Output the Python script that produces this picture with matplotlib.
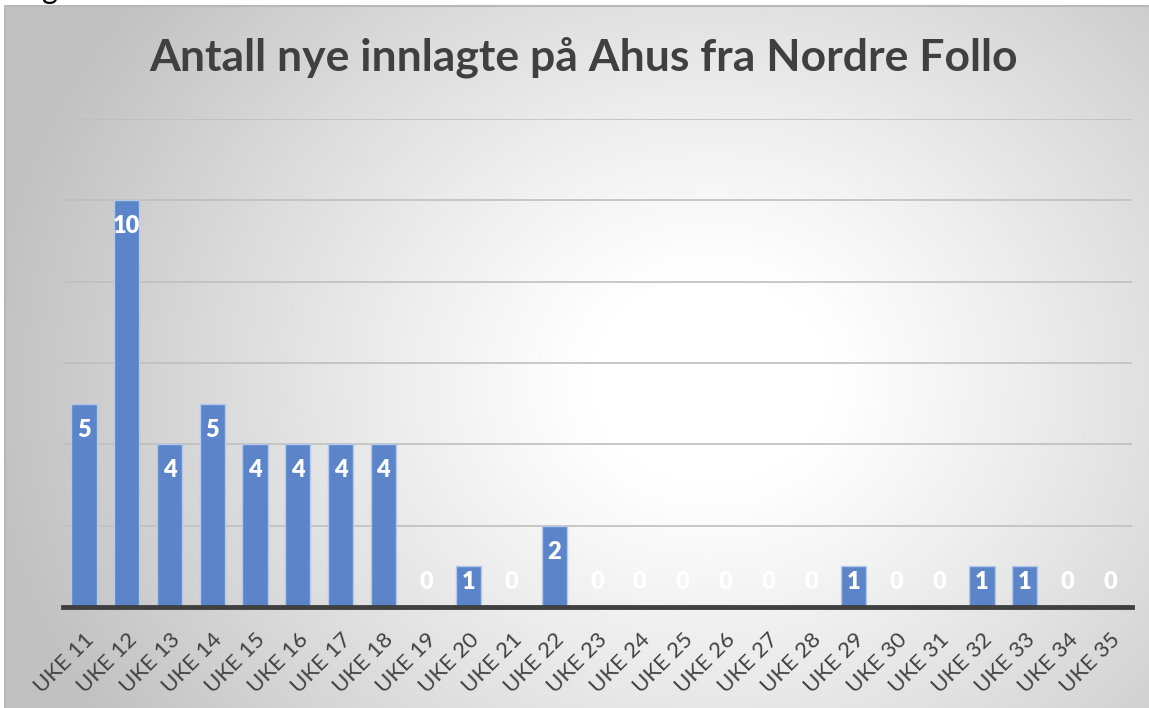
import numpy as np
import matplotlib.pyplot as plt

plt.rcParams['font.family'] = ['Lato', 'DejaVu Sans']

# data
weeks = ['UKE %d' % w for w in range(11, 36)]
values = [5, 10, 4, 5, 4, 4, 4, 4, 0, 1, 0, 2, 0, 0, 0, 0, 0, 0, 1, 0, 0, 1, 1, 0, 0]
title = 'Antall nye innlagte på Ahus fra Nordre Follo'

W, H = 1149, 708
fig = plt.figure(figsize=(W / 100, H / 100), dpi=100, facecolor='white')

# radial gradient background of the chart area
bx0, by0 = 5, 6
bg = fig.add_axes([bx0 / W, 0, 1 - bx0 / W, (H - by0) / H])
yy, xx = np.mgrid[by0:H, bx0:W]
r = np.hypot(xx - 710, (yy - 380) * 1.15)
t = np.clip((r - 120) / 600, 0, 1)
shade = 1 - 0.24 * t ** 1.1
img = np.dstack([shade, shade, shade])
bg.imshow(img, aspect='auto', extent=[0, 1, 0, 1], origin='upper')
bg.set_xlim(0, 1)
bg.set_ylim(0, 1)
bg.axis('off')
bg.plot([0, 0, 1], [0, 1, 1], color='#b8b8b8', lw=1.5, transform=bg.transAxes, clip_on=False)

# cut-off text from the page above
fig.text(42 / W, 1 + 1 / H, 'g', fontsize=22, color='black', ha='left', va='baseline')

ax = fig.add_axes([62.6 / W, 1 - 607 / H, (1131.6 - 62.6) / W, (607 - 119) / H])
ax.patch.set_alpha(0)
x = np.arange(len(weeks))
ax.bar(x, values, width=0.59, color='#5b84c9', edgecolor='#b4c8ea', linewidth=1, zorder=3)
ax.set_xlim(-0.5, len(weeks) - 0.5)
ax.set_ylim(0, 12)
ax.set_yticks(np.arange(2, 13, 2))
ax.yaxis.grid(True, color='#bfbfbf', lw=1.2, zorder=0)
ax.tick_params(axis='y', length=0, labelleft=False)
for s in ['top', 'right', 'left']:
    ax.spines[s].set_visible(False)
ax.spines['bottom'].set_color('#404040')
ax.spines['bottom'].set_linewidth(3.5)
ax.spines['bottom'].set_zorder(4)
ax.set_xticks(x)
ax.set_xticklabels(weeks, rotation=45, ha='right', rotation_mode='anchor',
                   fontsize=16, color='#404040')
ax.tick_params(axis='x', length=0, pad=16)

for i, v in enumerate(values):
    if v >= 1.3:
        ax.annotate(str(v), (i, v), xytext=(0, -26), textcoords='offset pixels',
                    ha='center', va='center', color='white', fontsize=17,
                    fontweight='heavy', zorder=5)
    else:
        ax.annotate(str(v), (i, 0), xytext=(0, 25), textcoords='offset pixels',
                    ha='center', va='center', color='white', fontsize=17,
                    fontweight='heavy', zorder=5)

fig.text(583 / W, 1 - 57 / H, title, ha='center', va='center',
         fontsize=32, fontweight='bold', color='#404040')

fig.savefig('out.png', dpi=100)
